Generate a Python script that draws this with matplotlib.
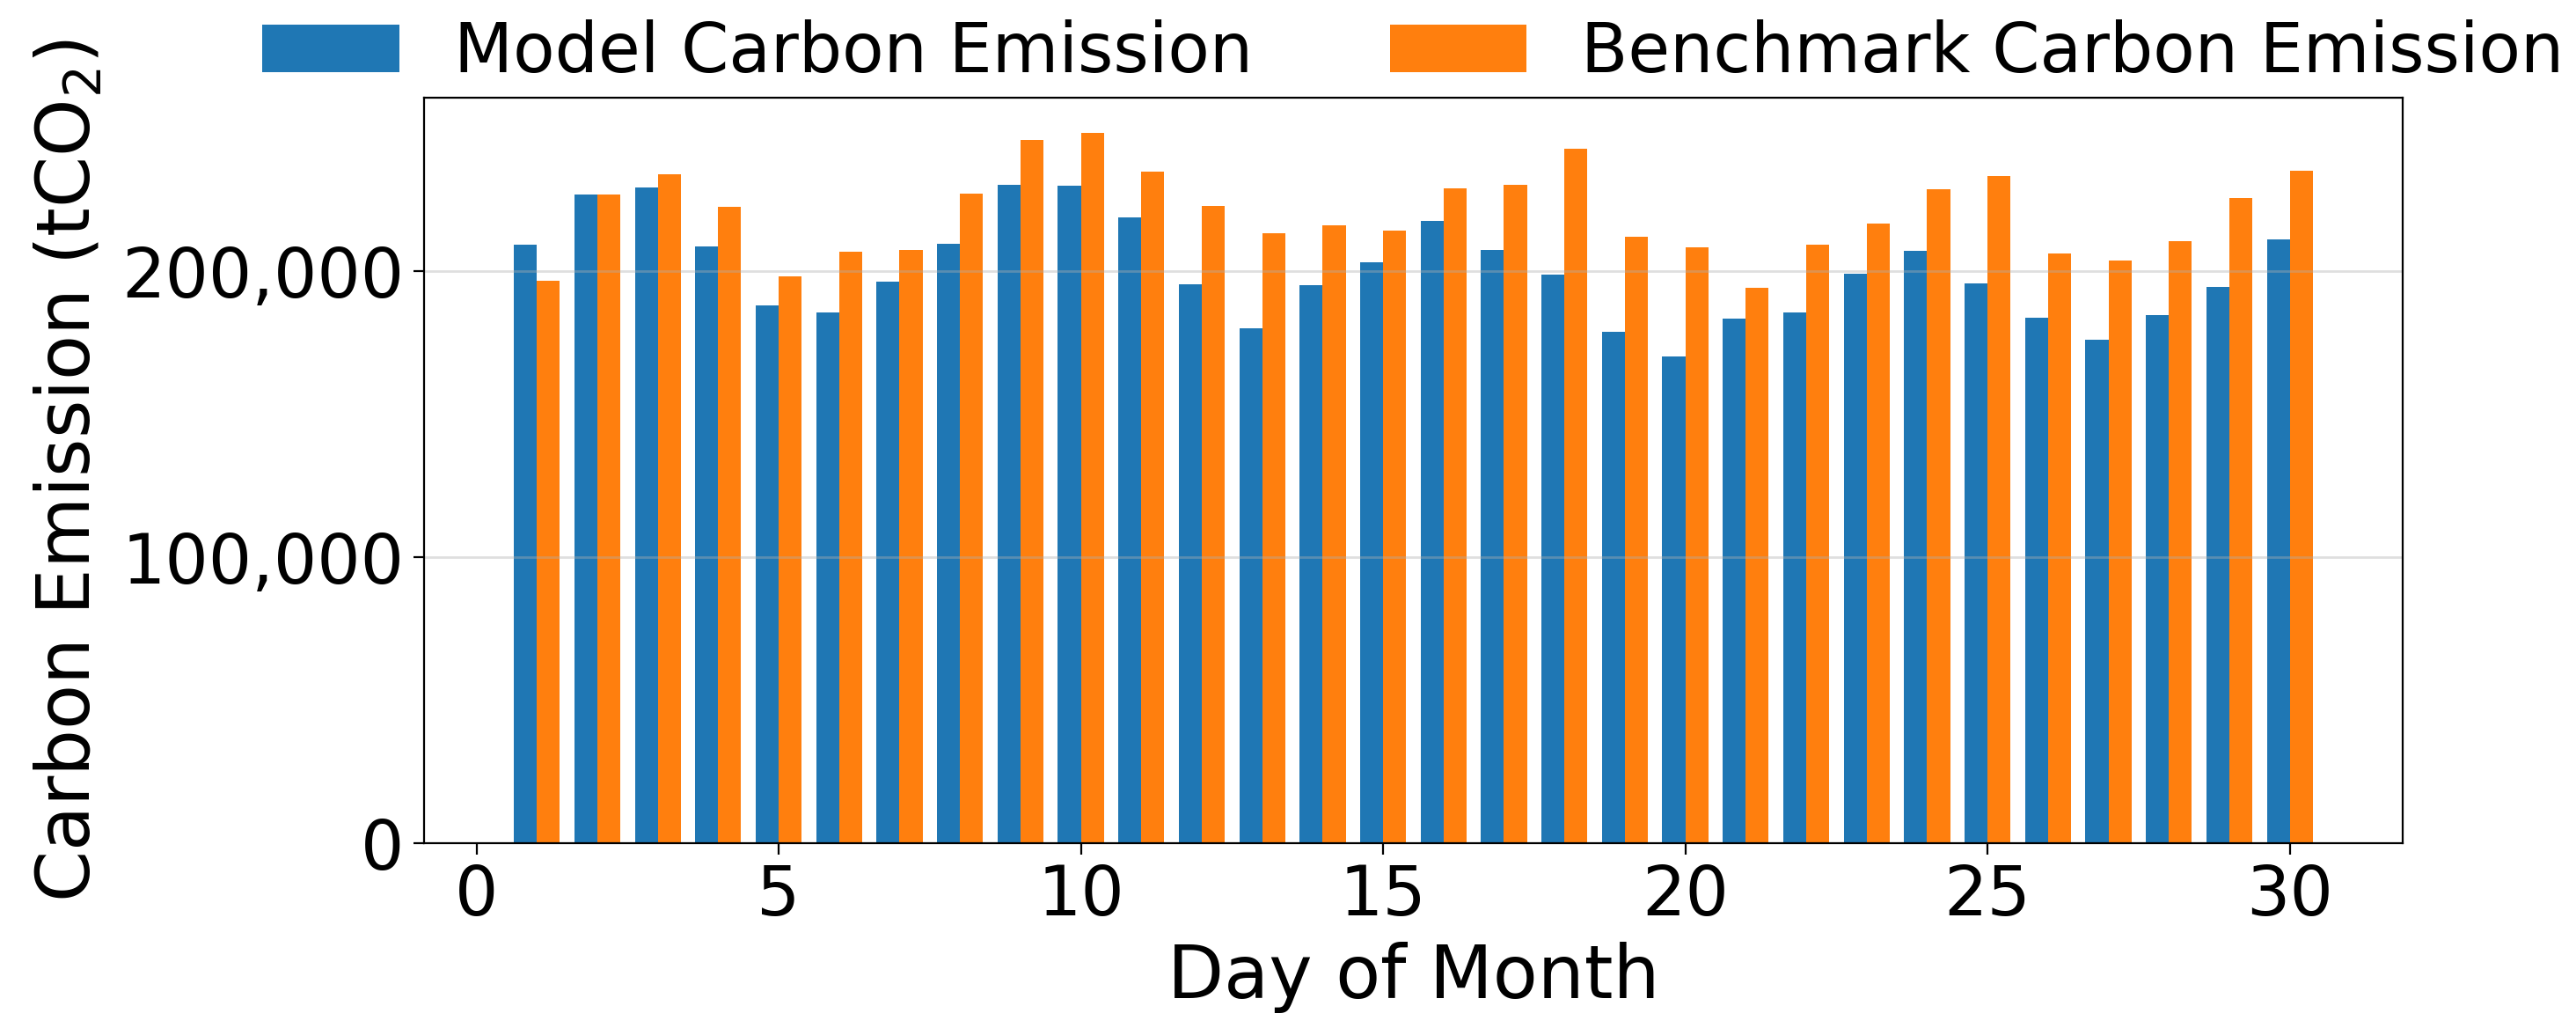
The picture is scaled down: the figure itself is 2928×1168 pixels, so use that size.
import matplotlib
matplotlib.use("Agg")
import matplotlib.pyplot as plt
import numpy as np
from matplotlib.ticker import FuncFormatter

days = list(range(1, 31))
model_emission = [209150, 226710, 229170, 208530, 187890, 185430, 196210, 209460, 230090, 229790,
                  218700, 195290, 179890, 194980, 202990, 217460, 207300, 198680, 178960, 170340,
                  183270, 185430, 198980, 206990, 195600, 183580, 176190, 184510, 194360, 211000]
benchmark_emission = [196520, 226710, 233790, 222390, 198060, 206680, 207300, 227010, 245800, 248270,
                      234710, 222700, 213150, 215920, 214080, 228860, 230090, 242720, 211920, 208220,
                      194060, 209150, 216540, 228550, 233170, 206070, 203600, 210380, 225470, 235020]
yticks = [0, 100000, 200000]

fig = plt.figure(figsize=(14.64, 5.84), dpi=200)
ax = fig.add_axes([0.1646, 0.1798, 0.7681, 0.7252])

x = np.array(days)
w = 0.38
ax.bar(x - w / 2, model_emission, width=w, color='#1f77b4', label='Model Carbon Emission')
ax.bar(x + w / 2, benchmark_emission, width=w, color='#ff7f0e', label='Benchmark Carbon Emission')

ax.set_yticks(yticks)
ax.yaxis.set_major_formatter(FuncFormatter(lambda v, p: f"{int(v):,}"))
ax.grid(axis='y', color='#b0b0b0', alpha=0.4, linewidth=1.0)
ax.tick_params(axis='both', labelsize=28, length=4.5)
ax.set_xlabel('Day of Month', fontsize=30, labelpad=5)
ax.set_ylabel('Carbon Emission (tCO$_2$)', fontsize=30, labelpad=7)

ax.legend(loc='center', bbox_to_anchor=(0.5, 1.06), ncol=2, frameon=False, fontsize=28)

fig.savefig('out.png', dpi=200)
